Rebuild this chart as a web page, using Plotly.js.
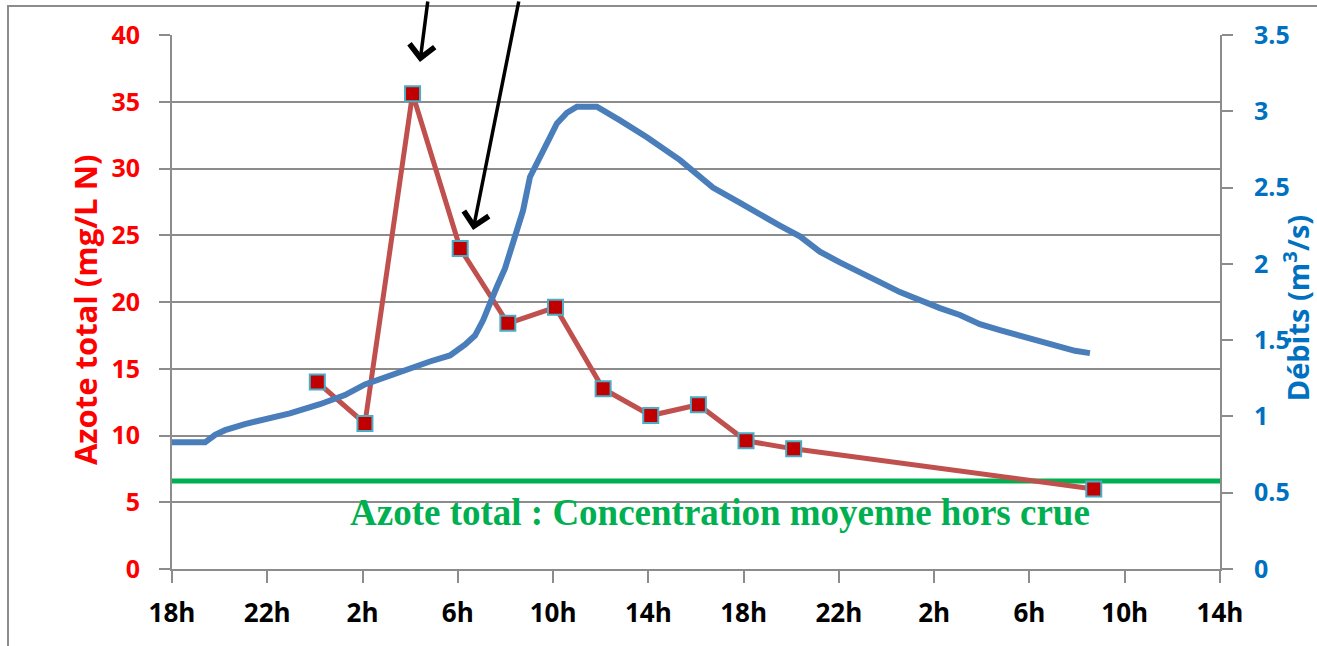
<!DOCTYPE html>
<html>
<head>
<meta charset="utf-8">
<script src="https://cdn.plot.ly/plotly-3.0.1.min.js"></script>
<style>
  html, body { margin: 0; padding: 0; background: #fff; overflow: hidden; }
  #frame { position: absolute; left: 7px; top: 5px; width: 1400px; height: 700px; border: 2px solid #8c8c8c; }
  #chart { position: absolute; left: 0; top: 0; width: 1317px; height: 646px; }
</style>
</head>
<body>
<div id="frame"></div>
<div id="chart"></div>
<script>
// Hours elapsed since 18h on day 1
const tickHours = [0, 4, 8, 12, 16, 20, 24, 28, 32, 36, 40, 44];
const tickLabels = ["18h", "22h", "2h", "6h", "10h", "14h", "18h", "22h", "2h", "6h", "10h", "14h"];

// Azote total samples (mg/L N)
const azoteHours = [6.1, 8.1, 10.1, 12.1, 14.1, 16.1, 18.1, 20.1, 22.1, 24.1, 26.1, 38.7];
const azoteValues = [14.0, 10.9, 35.6, 24.0, 18.4, 19.6, 13.5, 11.5, 12.3, 9.6, 9.0, 6.0];

// Débits (m3/s)
const flowHours = [0.0, 1.39, 1.81, 2.23, 3.06, 3.9, 4.95, 6.21, 7.26, 8.1, 9.15, 9.99, 10.83, 11.67, 12.3, 12.72, 13.06, 13.64, 13.98, 14.32, 14.74, 15.03, 15.45, 15.74, 16.16, 16.58, 17.0, 17.84, 18.81, 19.94, 21.33, 22.71, 23.85, 24.69, 25.52, 26.36, 27.2, 28.04, 28.88, 29.72, 30.56, 31.4, 32.24, 33.08, 33.92, 34.76, 35.6, 36.44, 37.28, 37.91, 38.54];
const flowValues = [0.83, 0.83, 0.88, 0.91, 0.95, 0.98, 1.02, 1.08, 1.14, 1.21, 1.27, 1.32, 1.36, 1.40, 1.47, 1.53, 1.63, 1.85, 1.97, 2.14, 2.35, 2.57, 2.71, 2.79, 2.92, 2.99, 3.03, 3.03, 2.94, 2.83, 2.68, 2.50, 2.40, 2.32, 2.25, 2.18, 2.08, 2.01, 1.95, 1.88, 1.815, 1.76, 1.71, 1.665, 1.605, 1.566, 1.527, 1.488, 1.455, 1.43, 1.415];

// Mean concentration outside flood
const meanHours = [0, 44];
const meanValues = [6.6, 6.6];
const meanLabel = "Azote total : Concentration moyenne hors crue";

// Axis titles
const leftTitle = "Azote total (mg/L N)";
const rightTitle = "Débits (m<sup>3</sup>/s)";

// Arrow pointers (tips on the chart)
const arrowHours = [10.41, 12.64];
const arrowValues = [37.98, 25.4];

const baseFont = "'Open Sans', 'Noto Sans', sans-serif";

const traces = [
  {
    x: meanHours, y: meanValues, type: "scatter", mode: "lines",
    line: { color: "#00B050", width: 5 }, hoverinfo: "skip", showlegend: false
  },
  {
    x: azoteHours, y: azoteValues, type: "scatter", mode: "lines+markers",
    line: { color: "#C0504D", width: 5 },
    marker: { symbol: "square", size: 15, color: "#C00000", line: { color: "#4BACC6", width: 2 } },
    showlegend: false
  },
  {
    x: flowHours, y: flowValues, type: "scatter", mode: "lines", yaxis: "y2",
    line: { color: "#4A7EBB", width: 6 }, showlegend: false
  }
];

const layout = {
  width: 1317, height: 646,
  margin: { l: 172, r: 97, t: 35, b: 77 },
  paper_bgcolor: "rgba(0,0,0,0)",
  plot_bgcolor: "rgba(0,0,0,0)",
  showlegend: false,
  xaxis: {
    range: [0, 44], tickmode: "array", tickvals: tickHours, ticktext: tickLabels,
    showgrid: false, zeroline: false, showline: true, linecolor: "#8c8c8c", linewidth: 2,
    ticks: "outside", ticklen: 12, tickwidth: 2, tickcolor: "#8c8c8c",
    tickfont: { family: baseFont, size: 26, color: "#000", weight: 700 },
    ticklabelstandoff: 8
  },
  yaxis: {
    range: [0, 40], dtick: 5, tick0: 0,
    showgrid: true, gridcolor: "#8c8c8c", gridwidth: 2, zeroline: false,
    showline: true, linecolor: "#8c8c8c", linewidth: 2,
    ticks: "outside", ticklen: 11, tickwidth: 2, tickcolor: "#8c8c8c",
    tickfont: { family: baseFont, size: 25, color: "#FF0000", weight: 700 },
    ticklabelstandoff: 14
  },
  yaxis2: {
    range: [0, 3.5], dtick: 0.5, tick0: 0, overlaying: "y", side: "right",
    showgrid: false, zeroline: false, showline: true, linecolor: "#8c8c8c", linewidth: 2,
    ticks: "outside", ticklen: 11, tickwidth: 2, tickcolor: "#8c8c8c",
    tickfont: { family: baseFont, size: 25, color: "#0070C0", weight: 700 },
    ticklabelstandoff: 16
  },
  annotations: [
    {
      x: -0.083, y: 0.485, xref: "paper", yref: "paper", text: leftTitle, showarrow: false,
      textangle: -90, xanchor: "center", yanchor: "middle",
      font: { family: baseFont, size: 31, color: "#FF0000", weight: 700 }
    },
    {
      x: 1.072, y: 0.489, xref: "paper", yref: "paper", text: rightTitle, showarrow: false,
      textangle: -90, xanchor: "center", yanchor: "middle",
      font: { family: baseFont, size: 29, color: "#0070C0", weight: 700 }
    },
    {
      x: 23.0, y: 4.2, xref: "x", yref: "y", text: meanLabel, showarrow: false,
      font: { family: "'Liberation Serif', 'Times New Roman', serif", size: 37, color: "#00B050", weight: 700 }
    },
    {
      x: arrowHours[0], y: arrowValues[0], xref: "x", yref: "y", text: "", showarrow: true,
      ax: 8, ay: -70, arrowhead: 4, arrowsize: 1.4, arrowwidth: 3.5, arrowcolor: "#000", standoff: 0
    },
    {
      x: arrowHours[1], y: arrowValues[1], xref: "x", yref: "y", text: "", showarrow: true,
      ax: 46, ay: -238, arrowhead: 4, arrowsize: 1.4, arrowwidth: 3.5, arrowcolor: "#000", standoff: 0
    }
  ]
};

Plotly.newPlot("chart", traces, layout, { staticPlot: true, displayModeBar: false });
</script>
</body>
</html>
